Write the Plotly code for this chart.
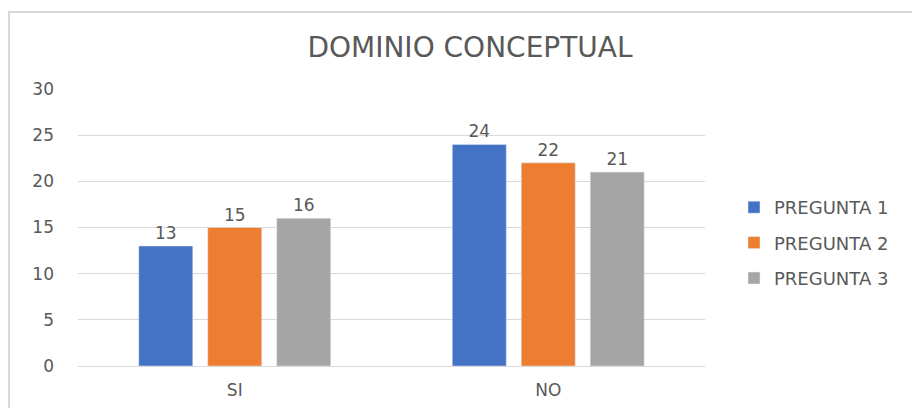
import plotly.graph_objects as go

categories = ["SI", "NO"]
series_names = ["PREGUNTA 1", "PREGUNTA 2", "PREGUNTA 3"]
pregunta1 = [13, 24]
pregunta2 = [15, 22]
pregunta3 = [16, 21]
colors = ["#4472C4", "#ED7D31", "#A5A5A5"]
y_ticks = [0, 5, 10, 15, 20, 25, 30]

FONT = "DejaVu Sans"
GREY = "#595959"

fig = go.Figure()
for name, vals, col in zip(series_names, [pregunta1, pregunta2, pregunta3], colors):
    fig.add_trace(go.Bar(
        x=categories, y=vals, name=name, marker_color=col,
        text=[str(v) for v in vals], textposition="outside",
        textfont=dict(size=17, color=GREY, family=FONT),
        cliponaxis=False, legendgroup=name,
    ))

# page has an 8px body margin: figure is 912x400 placed at (8, 8)
W, H = 912, 400
L, R, T, B = 70, 215, 81, 42
pw, ph = W - L - R, H - T - B

fig.update_layout(
    width=W, height=H,
    margin=dict(l=L, r=R, t=T, b=B),
    paper_bgcolor="white", plot_bgcolor="white",
    font=dict(family=FONT, color=GREY, size=17),
    title=dict(text="DOMINIO CONCEPTUAL", x=462 / W, xanchor="center",
               y=1 - 39 / H, yanchor="middle",
               font=dict(size=28, color=GREY, family=FONT)),
    barmode="group", bargap=0.34, bargroupgap=0.217,
    showlegend=True,
    legend=dict(x=(726 - L) / pw, xanchor="left", y=(358 - 235) / ph, yanchor="middle",
                font=dict(size=18, color=GREY, family=FONT), tracegroupgap=9,
                itemwidth=30),
    xaxis=dict(showgrid=False, showline=False, ticks="", automargin=False,
               tickfont=dict(size=17, color=GREY, family=FONT), ticklabelstandoff=12),
    yaxis=dict(range=[0, 30], tickvals=y_ticks, showgrid=True, gridcolor="#D9D9D9",
               gridwidth=1, zeroline=True, zerolinecolor="#D9D9D9", zerolinewidth=1,
               showline=False, ticks="", automargin=False,
               tickfont=dict(size=17, color=GREY, family=FONT),
               ticklabelstandoff=23),
    shapes=[
        dict(type="rect", xref="paper", yref="paper",
             x0=(1 - L) / pw, x1=(930 - L) / pw,
             y0=-(B + 20) / ph, y1=1 + (T - 4) / ph,
             line=dict(color="#D9D9D9", width=2), fillcolor="rgba(0,0,0,0)", layer="below"),
    ],
)

fig.write_html("out.html")
